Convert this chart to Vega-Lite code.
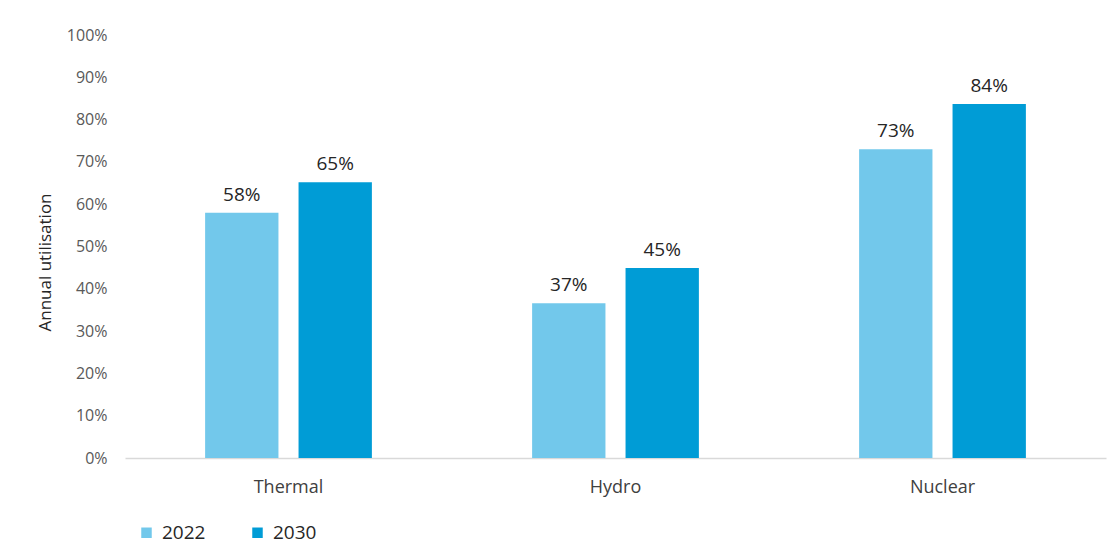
{
  "$schema": "https://vega.github.io/schema/vega-lite/v6.json",
  "width": 981,
  "height": 423,
  "autosize": {"type": "none"},
  "padding": {"left": 125, "top": 35, "right": 4, "bottom": 87},
  "background": "white",
  "config": {
    "view": {"stroke": null},
    "font": "Open Sans"
  },
  "data": {
    "values": [
      {"type": "Thermal", "year": "2022", "value": 0.58},
      {"type": "Thermal", "year": "2030", "value": 0.652},
      {"type": "Hydro", "year": "2022", "value": 0.366},
      {"type": "Hydro", "year": "2030", "value": 0.449},
      {"type": "Nuclear", "year": "2022", "value": 0.73},
      {"type": "Nuclear", "year": "2030", "value": 0.837}
    ]
  },
  "encoding": {
    "x": {
      "field": "type",
      "type": "nominal",
      "sort": ["Thermal", "Hydro", "Nuclear"],
      "scale": {"paddingInner": 0.49, "paddingOuter": 0.245},
      "axis": {
        "title": null,
        "labelAngle": 0,
        "labelFontSize": 18,
        "labelColor": "#404040",
        "labelPadding": 20,
        "ticks": false,
        "domainColor": "#d9d9d9",
        "domainWidth": 1.5
      }
    },
    "xOffset": {
      "field": "year",
      "type": "nominal",
      "scale": {"paddingInner": 0.215, "paddingOuter": 0}
    },
    "y": {
      "field": "value",
      "type": "quantitative",
      "scale": {"domain": [0, 1]},
      "axis": {
        "title": "Annual utilisation",
        "titleFontSize": 17,
        "titleFontWeight": "normal",
        "titleColor": "#262626",
        "titlePadding": 12,
        "titleY": 227,
        "format": "%",
        "values": [0, 0.1, 0.2, 0.3, 0.4, 0.5, 0.6, 0.7, 0.8, 0.9, 1],
        "labelFontSize": 16,
        "labelColor": "#595959",
        "labelPadding": 18,
        "grid": false,
        "domain": false,
        "ticks": false
      }
    }
  },
  "layer": [
    {
      "mark": {"type": "bar"},
      "encoding": {
        "color": {
          "field": "year",
          "type": "nominal",
          "scale": {"domain": ["2022", "2030"], "range": ["#72c8eb", "#009cd6"]},
          "legend": {
            "title": null,
            "orient": "none",
            "direction": "horizontal",
            "legendX": 12,
            "legendY": 488,
            "symbolType": "square",
            "symbolSize": 110,
            "symbolStrokeWidth": 0,
            "labelFontSize": 19,
            "labelColor": "#262626",
            "labelOffset": 6,
            "columnPadding": 42
          }
        }
      }
    },
    {
      "mark": {"type": "text", "baseline": "bottom", "dy": -8, "fontSize": 19, "color": "#262626"},
      "encoding": {
        "text": {"field": "value", "type": "quantitative", "format": ".0%"}
      }
    }
  ]
}
